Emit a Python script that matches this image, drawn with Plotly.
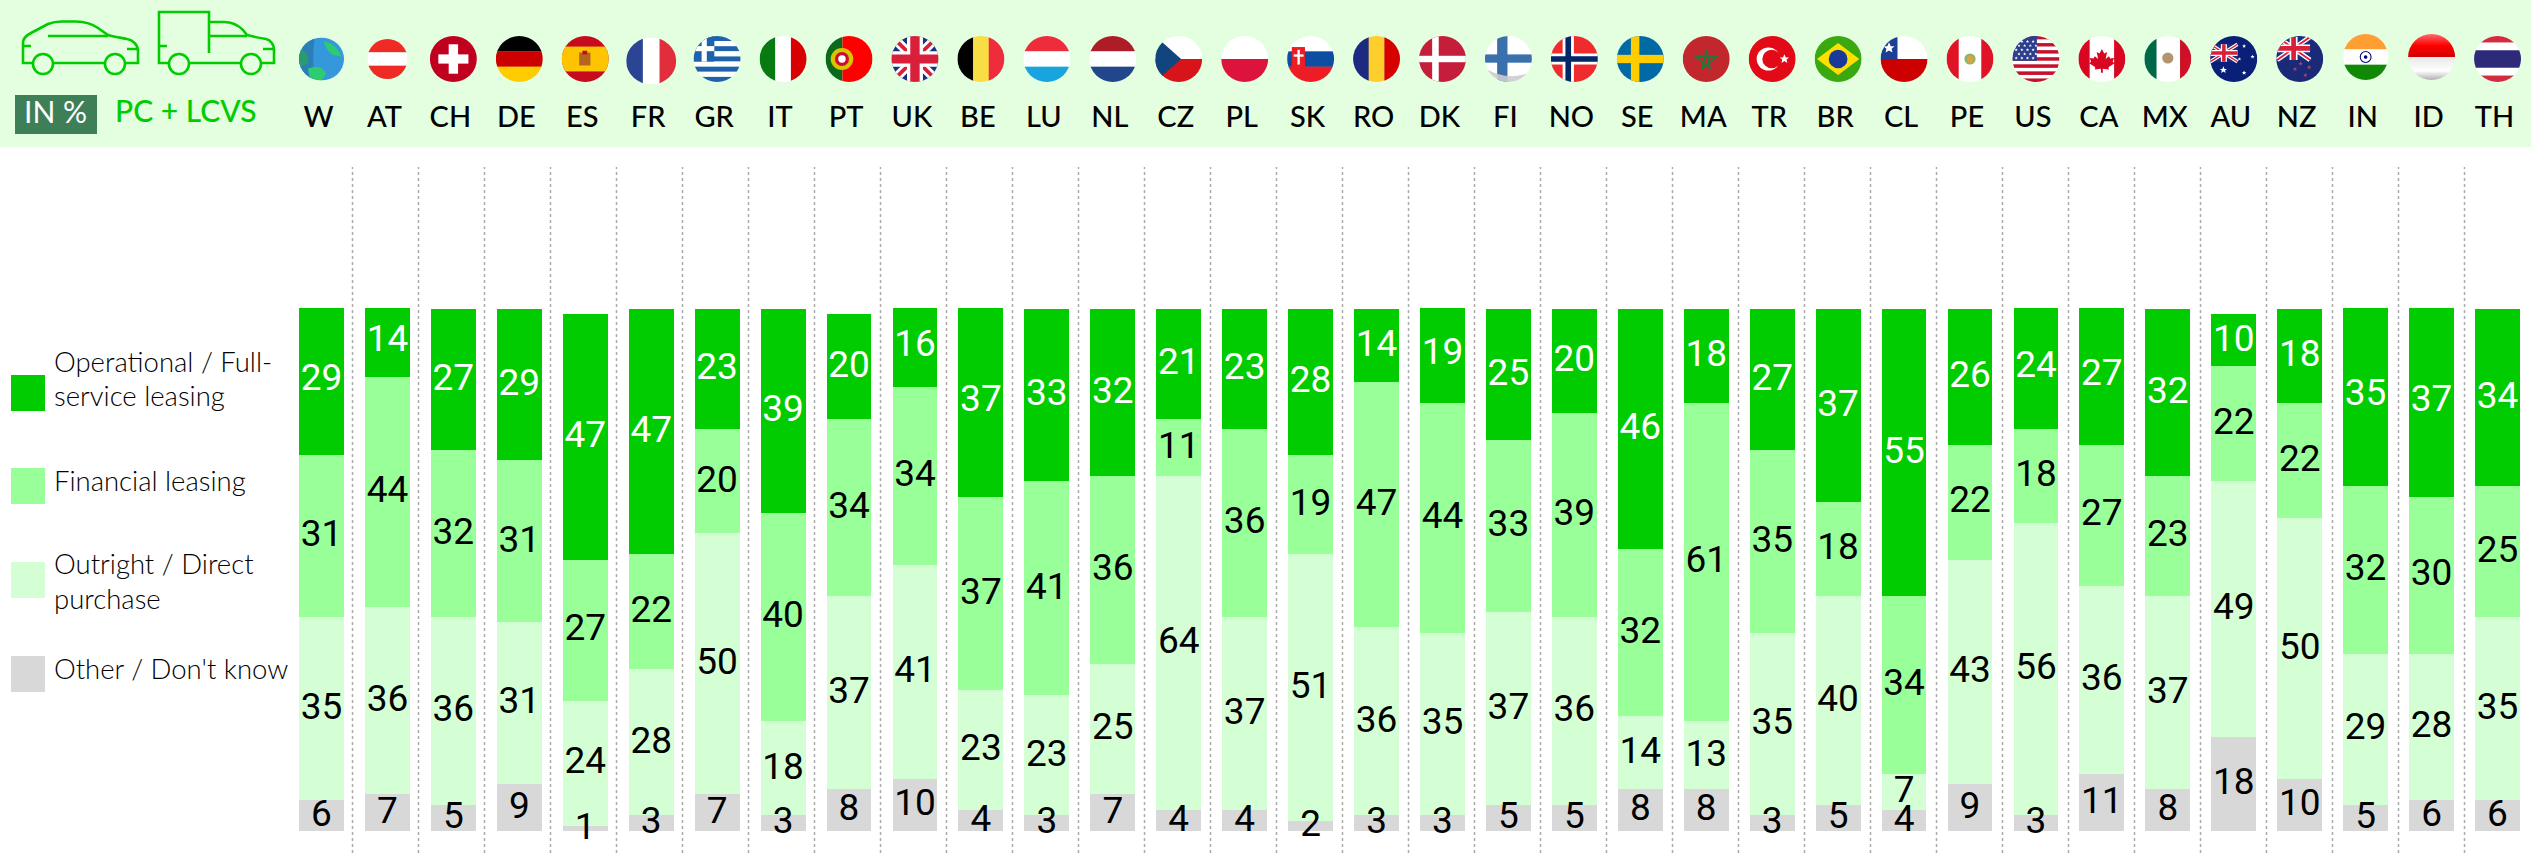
import base64
import plotly.graph_objects as go

W_PX, H_PX = 2531, 853

countries = ["W","AT","CH","DE","ES","FR","GR","IT","PT","UK","BE","LU","NL","CZ","PL","SK","RO","DK","FI","NO","SE","MA","TR","BR","CL","PE","US","CA","MX","AU","NZ","IN","ID","TH"]
operational = [29,14,27,29,47,47,23,39,20,16,37,33,32,21,23,28,14,19,25,20,46,18,27,37,55,26,24,27,32,10,18,35,37,34]
financial = [31,44,32,31,27,22,20,40,34,34,37,41,36,11,36,19,47,44,33,39,32,61,35,18,34,22,18,27,23,22,22,32,30,25]
outright = [35,36,36,31,24,28,50,18,37,41,23,23,25,64,37,51,36,35,37,36,14,13,35,40,7,43,56,36,37,49,50,29,28,35]
other = [6,7,5,9,1,3,7,3,8,10,4,3,7,4,4,2,3,3,5,5,8,8,3,5,4,9,3,11,8,18,10,5,6,6]
series_names = ["Other / Don't know", "Outright / Direct purchase", "Financial leasing", "Operational / Full-service leasing"]

C_DARK, C_MID, C_LIGHT, C_GRAY = "#00cc00", "#99ff99", "#d4ffd4", "#d8d8d8"
HEADER = "#e3ffe0"
NUM_FONT = "Roboto"
HEAD_FONT = "Lato"

# axis geometry
X0, PITCH = 321.5, 65.94
BASE_Y, TOP_Y, UNIT = 831.0, 308.0, 5.22
LABEL_LIFT = -1.0 / UNIT
xr = [-X0 / PITCH, (W_PX - X0) / PITCH]

def px(x): return x / W_PX
def py(y): return 1 - y / H_PX

xs = list(range(len(countries)))
fig = go.Figure()
stack = [(series_names[0], other, C_GRAY, "black"),
         (series_names[1], outright, C_LIGHT, "black"),
         (series_names[2], financial, C_MID, "black"),
         (series_names[3], operational, C_DARK, "white")]
for name, vals, col, tcol in stack:
    fig.add_bar(x=xs, y=vals, name=name, width=0.68, marker=dict(color=col, line=dict(width=0)),
                showlegend=False)
bottom = [0] * len(xs)
for name, vals, col, tcol in stack:
    mids = [b + v / 2 + LABEL_LIFT for b, v in zip(bottom, vals)]
    fig.add_scatter(x=xs, y=mids, mode="text", text=[str(v) for v in vals], textposition="middle center",
                    textfont=dict(family=NUM_FONT, size=37, color=tcol, weight=400), cliponaxis=False,
                    showlegend=False, hoverinfo="skip", name=name + " labels")
    bottom = [b + v for b, v in zip(bottom, vals)]

shapes, annots, images = [], [], []
shapes.append(dict(type="rect", xref="paper", yref="paper", x0=0, x1=1, y0=py(147), y1=1,
                   fillcolor=HEADER, line_width=0, layer="below"))
for i in range(len(countries) - 1):
    sx = 352.5 + i * 66.0
    shapes.append(dict(type="line", xref="paper", yref="paper", x0=px(sx), x1=px(sx), y0=0, y1=py(167),
                       line=dict(color="#aaaaaa", width=1.5, dash="dot"), layer="below"))
shapes.append(dict(type="rect", xref="paper", yref="paper", x0=px(15), x1=px(97), y0=py(134), y1=py(95),
                   fillcolor="#3f7f58", line_width=0))
annots.append(dict(text="IN %", xref="paper", yref="paper", x=px(56), y=py(111), showarrow=False,
                   xanchor="center", yanchor="middle", font=dict(family=HEAD_FONT, size=30, color="white")))
annots.append(dict(text="PC + LCVS", xref="paper", yref="paper", x=px(113), y=py(110), showarrow=False,
                   xanchor="left", yanchor="middle", font=dict(family=HEAD_FONT, size=30, color=C_DARK, weight=500)))
leg = [(375, C_DARK, [("Operational / Full-", 361), ("service leasing", 395)]),
       (468, C_MID, [("Financial leasing", 480)]),
       (562, C_LIGHT, [("Outright / Direct", 563.5), ("purchase", 598)]),
       (656, C_GRAY, [("Other / Don't know", 668)])]
for top, col, lines in leg:
    shapes.append(dict(type="rect", xref="paper", yref="paper", x0=px(11), x1=px(45), y0=py(top + 36), y1=py(top),
                       fillcolor=col, line_width=0))
    for t, yy in lines:
        annots.append(dict(text=t, xref="paper", yref="paper", x=px(52), y=py(yy), showarrow=False, xanchor="left",
                           yanchor="middle", font=dict(family=HEAD_FONT, size=27.5, color="#000000", weight=300)))

def uri(svg):
    return "data:image/svg+xml;base64," + base64.b64encode(svg.encode()).decode()

G = C_DARK
icon = f'''<svg xmlns="http://www.w3.org/2000/svg" viewBox="0 0 300 90" width="300" height="90"><g fill="none" stroke="{G}" stroke-width="2.6">
<path d="M33 63H23V43C23 38 27 35 31 33L48 24C53 22 58 21.5 62 21.5H76C84 21.5 92 24 98 28L108 35C114 37 122 38 127 39C133 40 138 45 138 51V63H125M105 63H53"/>
<circle cx="43" cy="64" r="10"/><circle cx="115" cy="64" r="10"/>
<path d="M48 36H108M23 46H31M127 49H138"/>
<path d="M169 63H159V12H209V53M209 22H224C232 22 238 25 243 30L247 35C254 37 260 38 266 39C271 40 274 45 274 50V63H261M241 63H189"/>
<circle cx="179" cy="64" r="10"/><circle cx="251" cy="64" r="10"/>
<path d="M209 36H247M159 46H167M263 49H274"/></g></svg>'''
images.append(dict(source=uri(icon), xref="paper", yref="paper", x=0, y=1, sizex=px(300), sizey=90 / H_PX,
                   xanchor="left", yanchor="top", sizing="stretch", layer="above"))

def h(*c):
    n = len(c)
    return "".join(f'<rect x="0" y="{100*i/n}" width="100" height="{100/n+.5}" fill="{k}"/>' for i, k in enumerate(c))
def v(*c):
    n = len(c)
    return "".join(f'<rect y="0" x="{100*i/n}" height="100" width="{100/n+.5}" fill="{k}"/>' for i, k in enumerate(c))
def r(x, y, w, hh, c):
    return f'<rect x="{x}" y="{y}" width="{w}" height="{hh}" fill="{c}"/>'
def c_(x, y, rr, c):
    return f'<circle cx="{x}" cy="{y}" r="{rr}" fill="{c}"/>'
def star(x, y, s, c):
    pts = "0,-10 2.9,-3.1 9.5,-3.1 4.4,1.2 5.9,8.1 0,4.3 -5.9,8.1 -4.4,1.2 -9.5,-3.1 -2.9,-3.1"
    return f'<polygon transform="translate({x} {y}) scale({s})" points="{pts}" fill="{c}"/>'
def jack(w, hh):
    s = f'<rect width="{w}" height="{hh}" fill="#1a2f80"/>'
    s += f'<path d="M0 0L{w} {hh}M{w} 0L0 {hh}" stroke="white" stroke-width="{hh*.2}"/>'
    s += f'<path d="M0 0L{w} {hh}M{w} 0L0 {hh}" stroke="#d8203a" stroke-width="{hh*.08}"/>'
    s += f'<path d="M{w/2} 0V{hh}M0 {hh/2}H{w}" stroke="white" stroke-width="{hh*.34}"/>'
    s += f'<path d="M{w/2} 0V{hh}M0 {hh/2}H{w}" stroke="#d8203a" stroke-width="{hh*.2}"/>'
    return s

gr = "".join(r(0, i * 100 / 9, 100, 100 / 9, "#1f62ac" if i % 2 == 0 else "white") for i in range(9)) + r(0, 0, 44, 55.6, "#1f62ac") + r(0, 22, 44, 11, "white") + r(17, 0, 11, 55.6, "white")
us = "".join(r(0, i * 100 / 13, 100, 100 / 13 + .3, "#c8102e" if i % 2 == 0 else "white") for i in range(13)) + r(0, 0, 52, 54, "#2b3f8c") + "".join(star(8 + 12 * a + (6 if b % 2 else 0), 12 + 9 * b, .36, "white") for a in range(4) for b in range(5))
au = '<rect width="100" height="100" fill="#0a1f78"/>' + f'<g transform="translate(0 18)">{jack(58, 38)}</g>' + star(28, 74, .8, "white") + star(72, 22, .45, "white") + star(90, 45, .45, "white") + star(72, 80, .5, "white") + star(62, 50, .4, "white")
nz = '<rect width="100" height="100" fill="#1a2a78"/>' + f'<g transform="translate(2 2)">{jack(70, 50)}</g>' + star(52, 60, .5, "#a64a6a") + star(70, 68, .5, "#a64a6a") + star(62, 85, .5, "#a64a6a") + star(40, 72, .5, "#a64a6a")
leaf = '<path d="M50 28L55 38L61 35L58 50L65 44L68 49L76 48L73 56L77 59L64 68L65 73L52 71V80H48V71L35 73L36 68L23 59L27 56L24 48L32 49L35 44L42 50L39 35L45 38Z" fill="#d80621"/>'
flags = {
 "W": '<rect width="100" height="100" fill="#3498db"/><path d="M0 0H35Q28 50 35 100H0Z" fill="#2b7fb8"/><path d="M0 25Q25 35 20 60Q10 70 0 65Z" fill="#2a9a70"/><path d="M55 8Q85 15 95 45L75 40Q60 30 55 8Z" fill="#2ecc71"/><path d="M20 72Q50 60 60 85L50 100H25Z" fill="#2ecc71"/>',
 "AT": h("#ee2c25", "#ffffff", "#ee2c25"),
 "CH": '<rect width="100" height="100" fill="#c0001f"/>' + r(40, 18, 20, 64, "white") + r(18, 40, 64, 20, "white"),
 "DE": h("#000000", "#cc0000", "#ffcc00"),
 "ES": r(0, 0, 100, 100, "#c60b1e") + r(0, 23, 100, 54, "#ffc400") + r(37, 36, 24, 28, "#b5651d") + r(44, 32, 10, 8, "#c60b1e"),
 "FR": v("#2b4594", "#ffffff", "#e22d3c"),
 "GR": gr,
 "IT": v("#087a12", "#ffffff", "#d80000"),
 "PT": r(0, 0, 36, 100, "#0a6a1c") + r(36, 0, 64, 100, "#ff0000") + c_(35, 50, 24, "#d9c400") + c_(35, 50, 15, "#c8102e") + c_(35, 50, 8, "white"),
 "UK": jack(100, 100),
 "BE": v("#000000", "#f9dd45", "#ee2c3c"),
 "LU": h("#ee2c3c", "#ffffff", "#18a4de"),
 "NL": h("#ae1c28", "#ffffff", "#21468b"),
 "CZ": h("#ffffff", "#d7141a") + '<path d="M0 0L55 50L0 100Z" fill="#11457e"/>',
 "PL": h("#ffffff", "#dc143c"),
 "SK": h("#ffffff", "#0b4ea2", "#ee1c25") + r(10, 24, 28, 44, "#ee1c25") + r(22, 30, 5, 32, "white") + r(14, 40, 21, 5, "white"),
 "RO": v("#1c2a80", "#fdce2c", "#d60000"),
 "DK": r(0, 0, 100, 100, "#c41e3a") + r(28, 0, 14, 100, "white") + r(0, 43, 100, 14, "white"),
 "FI": r(0, 0, 100, 100, "#ffffff") + r(26, 0, 22, 100, "#3a70ac") + r(0, 40, 100, 18, "#3a70ac") + '<path d="M0 100V70Q50 100 100 78V100Z" fill="#cccccc" opacity=".9"/>',
 "NO": r(0, 0, 100, 100, "#ef2b2d") + r(25, 0, 24, 100, "white") + r(0, 38, 100, 24, "white") + r(31, 0, 12, 100, "#002868") + r(0, 44, 100, 12, "#002868"),
 "SE": r(0, 0, 100, 100, "#006aa7") + r(30, 0, 18, 100, "#fecc00") + r(0, 41, 100, 18, "#fecc00"),
 "MA": r(0, 0, 100, 100, "#c1272d") + '<polygon points="50,30 58,70 28,45 72,45 42,70" fill="none" stroke="#1a7a3a" stroke-width="3.5"/>',
 "TR": r(0, 0, 100, 100, "#e30a17") + c_(42, 50, 25, "white") + c_(49, 50, 20, "#e30a17") + star(76, 50, 1.05, "white"),
 "BR": r(0, 0, 100, 100, "#3aa80f") + '<path d="M50 15L95 50L50 85L5 50Z" fill="#ffdf00"/>' + c_(50, 50, 20, "#1a3a9a"),
 "CL": h("#ffffff", "#cc0000") + r(0, 0, 36, 50, "#1c3f94") + star(18, 26, 1.25, "white"),
 "PE": r(0, 0, 100, 100, "white") + r(0, 0, 26, 100, "#df1226") + r(74, 0, 26, 100, "#df1226") + c_(50, 50, 12, "#8fb56a") + r(44, 44, 12, 14, "#d9a441"),
 "US": us,
 "CA": r(0, 0, 100, 100, "white") + r(0, 0, 24, 100, "#d80621") + r(76, 0, 24, 100, "#d80621") + leaf,
 "MX": r(0, 0, 100, 100, "white") + r(0, 0, 26, 100, "#006847") + r(76, 0, 24, 100, "#ce1126") + c_(50, 48, 12, "#b39470"),
 "AU": au,
 "NZ": nz,
 "IN": h("#ff9f33", "#ffffff", "#128807") + '<circle cx="50" cy="50" r="12" fill="none" stroke="#000088" stroke-width="2.5"/>' + c_(50, 50, 4, "#000088"),
 "ID": '<defs><linearGradient id="g" x1="0" y1="0" x2="0" y2="1"><stop offset="0" stop-color="#ff6a6a"/><stop offset=".25" stop-color="#ff0000"/><stop offset=".5" stop-color="#d00000"/><stop offset=".5" stop-color="#e8e8e8"/><stop offset=".8" stop-color="#ffffff"/><stop offset="1" stop-color="#b0b0b0"/></linearGradient></defs><rect width="100" height="100" fill="url(#g)"/>',
 "TH": r(0, 0, 100, 100, "white") + r(0, 0, 100, 14, "#d12c3f") + r(0, 86, 100, 14, "#d12c3f") + r(0, 31, 100, 38, "#2d2a7a"),
}
flag_size = {"AT": (40, 40), "FR": (50, 47), "W": (45, 43), "IN": (45, 46)}
flag_y = {"FR": 61, "IN": 57, "ID": 57}
for i, code in enumerate(countries):
    w_, h_ = flag_size.get(code, (47, 46))
    svg = f'<svg xmlns="http://www.w3.org/2000/svg" viewBox="0 0 100 100" width="100" height="100" preserveAspectRatio="none"><defs><clipPath id="c"><circle cx="50" cy="50" r="50"/></clipPath></defs><g clip-path="url(#c)">{flags[code]}</g></svg>'
    cx = X0 + i * PITCH
    images.append(dict(source=uri(svg), xref="paper", yref="paper", x=px(cx), y=py(flag_y.get(code, 59)),
                       sizex=w_ / W_PX, sizey=h_ / H_PX, xanchor="center", yanchor="middle",
                       sizing="stretch", layer="above"))

fig.update_layout(
    width=W_PX, height=H_PX, autosize=False, margin=dict(l=0, r=0, t=0, b=0, pad=0),
    barmode="stack", paper_bgcolor="white", plot_bgcolor="rgba(0,0,0,0)",
    shapes=shapes, annotations=annots, images=images,
    xaxis=dict(range=xr, tickmode="array", tickvals=xs, ticktext=countries,
               showgrid=False, zeroline=False, showline=False, ticks="", side="top", anchor="free",
               position=py(133), ticklabelshift=-3,
               tickfont=dict(family=HEAD_FONT, size=29, color="black", weight=500)),
    yaxis=dict(domain=[py(BASE_Y), py(TOP_Y)], range=[0, (BASE_Y - TOP_Y) / UNIT], visible=False,
               showgrid=False, zeroline=False),
)
fig.write_html("out.html", config=dict(displayModeBar=False),
               post_script="document.body.style.margin='0';document.body.style.overflow='hidden';")
